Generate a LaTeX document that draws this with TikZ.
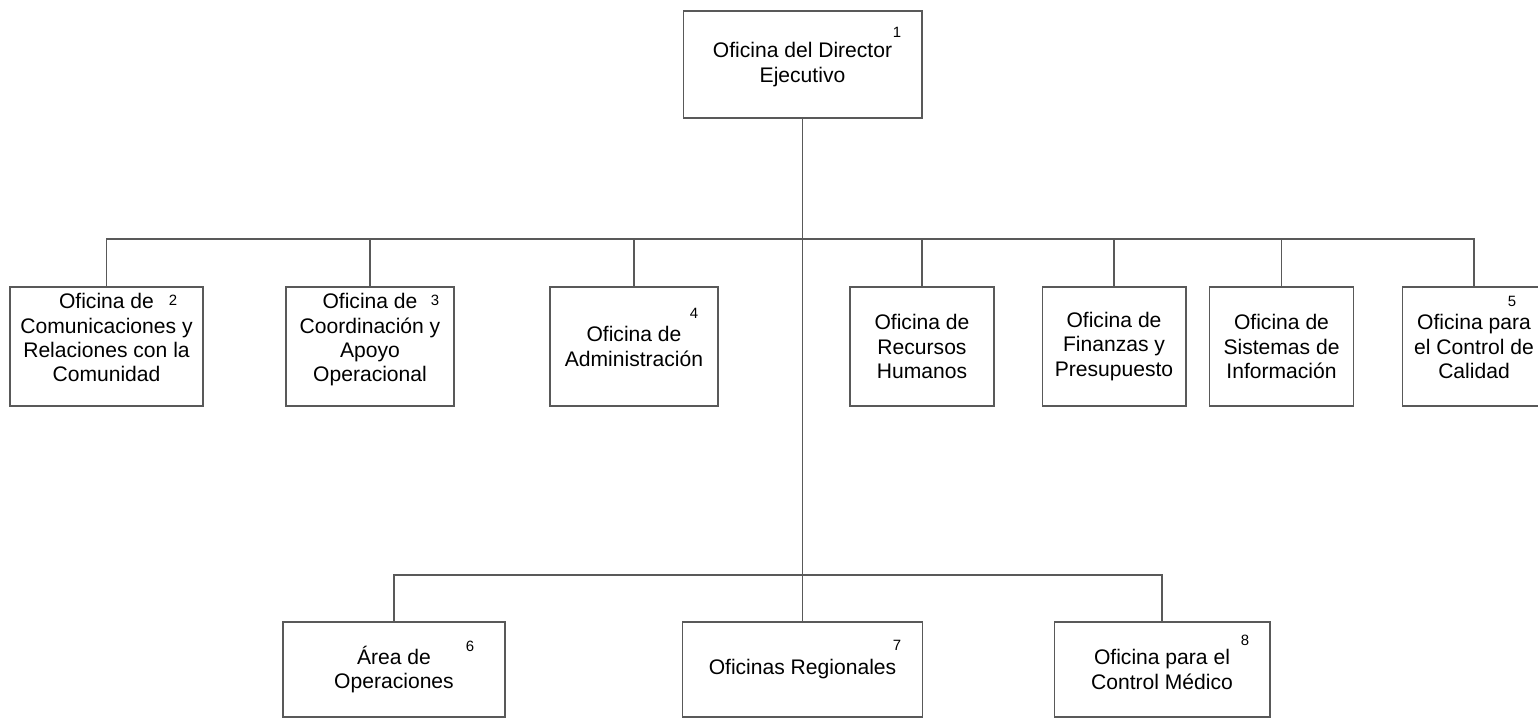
\documentclass[tikz,border=0pt]{standalone}
\usepackage{fontspec}
\setmainfont{Liberation Sans}
\usepackage{tikz}
\usetikzlibrary{positioning}
\tikzstyle{office}=[draw=black!65,line width=0.6pt,align=center,inner sep=2pt,font=\fontsize{12}{13.9}\selectfont]
\tikzstyle{tag}=[inner sep=0pt,font=\fontsize{8.5}{10}\selectfont]
\tikzstyle{link}=[draw=black!65,line width=0.6pt]
\newcommand{\lift}{\rule[-10pt]{0pt}{10pt}}

\begin{document}
\begin{tikzpicture}[x=0.02cm,y=-0.02cm]
	\useasboundingbox (0,0) rectangle (1538,719);
	% top
	\node[office,minimum width=4.78cm,minimum height=2.14cm] (dir) at (802.5,64.5) {Oficina del Director\\Ejecutivo};
	% second level
	\node[office,minimum width=3.86cm,minimum height=2.38cm] (com) at (106.5,346.5) {Oficina de\\Comunicaciones y\\Relaciones con la\\Comunidad\lift};
	\node[office,minimum width=3.36cm,minimum height=2.38cm] (coo) at (370,346.5) {Oficina de\\Coordinación y\\Apoyo\\Operacional\lift};
	\node[office,minimum width=3.36cm,minimum height=2.38cm] (adm) at (634,346.5) {Oficina de\\Administración};
	\node[office,minimum width=2.88cm,minimum height=2.38cm] (rh) at (922,346.5) {Oficina de\\Recursos\\Humanos};
	\node[office,minimum width=2.88cm,minimum height=2.38cm] (fin) at (1114,346.5) {Oficina de\\Finanzas y\\Presupuesto};
	\node[office,minimum width=2.88cm,minimum height=2.38cm] (sis) at (1281.5,346.5) {Oficina de\\Sistemas de\\Información};
	\node[office,minimum width=2.88cm,minimum height=2.38cm] (cal) at (1474,346.5) {Oficina para\\el Control de\\Calidad};
	% third level
	\node[office,minimum width=4.44cm,minimum height=1.9cm] (ope) at (394,669.5) {Área de\\Operaciones};
	\node[office,minimum width=4.8cm,minimum height=1.9cm] (reg) at (802.5,669.5) {Oficinas Regionales};
	\node[office,minimum width=4.32cm,minimum height=1.9cm] (med) at (1162,669.5) {Oficina para el\\Control Médico};
	% numbers
	\node[tag] (n1) at (897,32) {1};
	\node[tag] (n2) at (173,300) {2};
	\node[tag] (n3) at (435,300) {3};
	\node[tag] (n4) at (694,313) {4};
	\node[tag] (n5) at (1512,301) {5};
	\node[tag] (n6) at (470,646) {6};
	\node[tag] (n7) at (897,645) {7};
	\node[tag] (n8) at (1245,640) {8};
	\coordinate (bus1) at (802.5,239);
	\coordinate (bus2) at (802.5,575);
	\path[link] (dir.south) -- (reg.north);
	\path[link] (com.north) |- (bus1) -| (cal.north);
	\foreach \n in {coo,adm,rh,fin,sis}
		\path[link] (\n.north) -- (\n.north |- bus1);
	\path[link] (ope.north) |- (bus2) -| (med.north);
\end{tikzpicture}
\end{document}
